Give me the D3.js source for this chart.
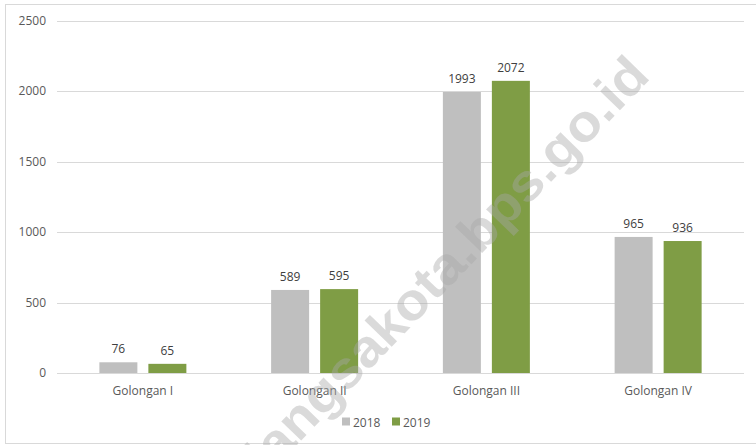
<!DOCTYPE html>
<html>
<head>
<meta charset="utf-8">
<script src="https://cdn.jsdelivr.net/npm/d3@7"></script>
<style>
  html, body { margin: 0; padding: 0; background: #fff; }
  svg { display: block; }
  text { font-family: "Open Sans", "Noto Sans", sans-serif; }
</style>
</head>
<body>
<svg id="chart"></svg>
<script>
// Chart data
const categories = ['Golongan I', 'Golongan II', 'Golongan III', 'Golongan IV'];
const seriesNames = ['2018', '2019'];
const values2018 = [76, 589, 1993, 965];
const values2019 = [65, 595, 2072, 936];
const yTicks = [0, 500, 1000, 1500, 2000, 2500];

const width = 756, height = 445;
const margin = { top: 20.5, right: 12, bottom: 72, left: 57 };
const COLORS = { '2018': '#bfbfbf', '2019': '#7f9d45' };

const svg = d3.select('#chart').attr('width', width).attr('height', height);

// outer border of the chart area
svg.append('rect')
  .attr('x', 5.5).attr('y', 4.5)
  .attr('width', width + 10).attr('height', 439)
  .attr('fill', 'none').attr('stroke', '#d9d9d9').attr('stroke-width', 1);

const x0 = d3.scaleBand()
  .domain(categories)
  .range([margin.left, width - margin.right]);

// bars inside a group: 38px wide, 11px apart
const groupW = 87;
const x1 = d3.scaleBand()
  .domain(seriesNames)
  .range([0, groupW])
  .paddingInner(11 / 49);

const y = d3.scaleLinear()
  .domain([0, 2500])
  .range([height - margin.bottom, margin.top]);

// gridlines
svg.append('g')
  .selectAll('line')
  .data(yTicks)
  .join('line')
  .attr('x1', margin.left).attr('x2', width - margin.right)
  .attr('y1', d => Math.round(y(d)) + 0.5).attr('y2', d => Math.round(y(d)) + 0.5)
  .attr('stroke', '#d9d9d9').attr('stroke-width', 1);

// y axis labels
const yAxis = svg.append('g')
  .attr('transform', `translate(${margin.left - 11},0)`)
  .call(d3.axisLeft(y).tickValues(yTicks).tickFormat(d3.format('d')).tickSize(0).tickPadding(0));
yAxis.select('.domain').remove();
yAxis.selectAll('text')
  .attr('fill', '#595959').attr('font-size', 12)
  .style('font-family', '"Open Sans", sans-serif');

// x axis labels
const xAxis = svg.append('g')
  .attr('transform', `translate(0,${y(0)})`)
  .call(d3.axisBottom(x0).tickSize(0).tickPadding(13));
xAxis.select('.domain').remove();
xAxis.selectAll('text')
  .attr('fill', '#595959').attr('font-size', 12)
  .style('font-family', '"Open Sans", sans-serif');

const rows = categories.map((c, i) => ({
  cat: c,
  vals: [{ key: '2018', v: values2018[i] }, { key: '2019', v: values2019[i] }]
}));

const groups = svg.append('g')
  .selectAll('g')
  .data(rows)
  .join('g')
  .attr('transform', d => `translate(${x0(d.cat) + x0.bandwidth() / 2 - groupW / 2},0)`);

groups.selectAll('rect')
  .data(d => d.vals)
  .join('rect')
  .attr('x', d => x1(d.key))
  .attr('width', x1.bandwidth())
  .attr('y', d => y(d.v))
  .attr('height', d => y(0) - y(d.v))
  .attr('fill', d => COLORS[d.key]);

groups.selectAll('text.val')
  .data(d => d.vals)
  .join('text')
  .attr('class', 'val')
  .attr('x', d => x1(d.key) + x1.bandwidth() / 2)
  .attr('y', d => y(d.v) - 9)
  .attr('text-anchor', 'middle')
  .attr('fill', '#404040')
  .attr('font-size', 12)
  .text(d => d.v);

// legend
const legend = svg.append('g')
  .attr('transform', `translate(342,422)`)
  .selectAll('g')
  .data(seriesNames)
  .join('g')
  .attr('transform', (d, i) => `translate(${i * 50},0)`);
legend.append('rect')
  .attr('x', 0).attr('y', -4.5)
  .attr('width', 8).attr('height', 8)
  .attr('fill', d => COLORS[d]);
legend.append('text')
  .attr('x', 11).attr('y', 4.5)
  .attr('fill', '#595959').attr('font-size', 12)
  .text(d => d);

// watermark
svg.append('text')
  .attr('transform', 'translate(459,277) rotate(-46)')
  .attr('text-anchor', 'middle')
  .attr('font-size', 52)
  .attr('font-weight', 'bold')
  .attr('textLength', 555)
  .attr('lengthAdjust', 'spacingAndGlyphs')
  .style('font-family', '"Liberation Sans", Arial, sans-serif')
  .attr('fill', '#a6a6a6')
  .attr('fill-opacity', 0.42)
  .text('langsakota.bps.go.id');
</script>
</body>
</html>
